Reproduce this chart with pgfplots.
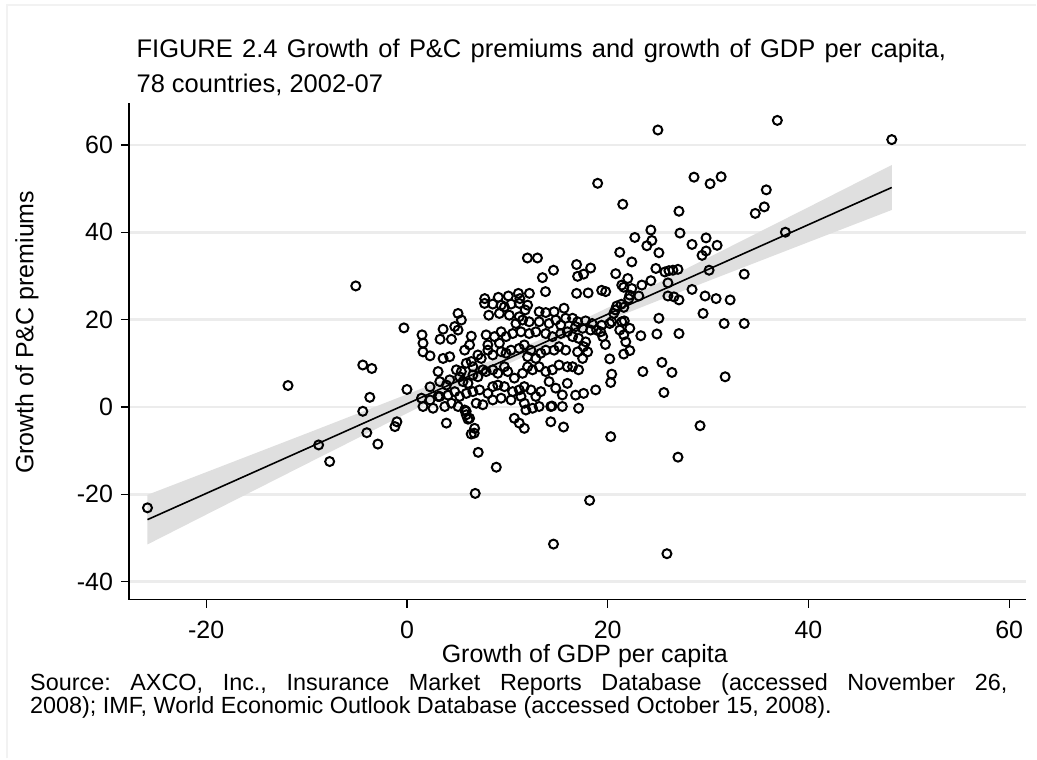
\documentclass[border=0pt]{standalone}
\usepackage{pgfplots}
\pgfplotsset{compat=1.18}
\usepackage{pgfplotstable}
\usepgfplotslibrary{fillbetween}
\usepackage{fontspec}
\setmainfont{Liberation Sans}

\pgfplotstableread{
x y
25.0 63.4
36.9 65.6
48.3 61.2
19.0 51.2
28.6 52.6
30.2 51.1
31.3 52.7
35.8 49.7
35.6 45.8
34.7 44.3
21.5 46.4
27.1 44.8
37.7 40.0
24.3 40.5
27.2 39.8
22.7 38.8
24.4 38.1
23.9 36.9
25.1 35.3
28.4 37.2
29.8 38.7
30.9 37.0
29.8 35.7
29.4 34.7
21.2 35.4
22.4 33.2
30.1 31.3
33.6 30.4
24.8 31.7
25.7 30.9
26.1 31.2
26.5 31.3
27.0 31.5
20.8 30.5
22.0 29.4
12.0 34.1
13.0 34.1
14.6 31.3
13.5 29.6
16.9 32.6
18.3 31.8
17.0 29.9
17.6 30.4
18.2 -21.4
14.6 -31.4
25.9 -33.6
6.8 -19.8
8.9 -13.8
-25.85 -23.1
-11.85 4.9
-8.8 -8.7
-7.7 -12.5
-5.1 27.7
-4.4 9.6
-3.5 8.8
-4.4 -1.0
-3.7 2.2
-4.0 -5.9
-2.9 -8.5
19.4 26.7
19.8 26.4
21.4 27.9
21.6 27.4
22.4 27.1
23.4 27.9
24.3 28.9
26.0 28.4
28.4 26.9
26.0 25.4
26.6 25.2
27.1 24.5
29.7 25.4
30.8 24.8
32.2 24.5
29.5 21.4
31.6 19.1
33.6 19.1
25.1 20.3
24.9 16.7
27.1 16.8
23.3 16.3
21.35 23.5
20.9 23.1
20.76 22.2
20.6 21.4
21.6 22.8
22.1 24.8
23.1 25.4
22.2 25.6
19.4 18.7
20.2 19.1
20.4 19.5
19.3 17.2
19.5 16.1
19.77 14.3
21.4 19.5
21.65 19.7
21.2 17.6
21.6 16.5
21.8 14.9
22.2 18.0
22.2 12.9
21.6 12.1
20.2 11.0
20.4 7.5
20.3 5.6
23.5 8.1
25.4 10.2
26.4 7.9
25.6 3.3
31.7 6.9
29.2 -4.3
20.3 -6.8
27.0 -11.5
7.73 23.7
8.55 23.55
9.38 23.3
9.71 22.9
10.37 23.55
11.19 23.7
12.02 23.3
11.78 22.2
13.17 21.8
13.83 21.6
14.66 21.8
15.65 22.6
5.09 21.4
5.42 19.9
4.76 18.4
5.09 17.6
8.15 21.0
9.21 21.4
10.2 21.0
11.19 20.65
11.52 19.9
10.86 19.1
12.18 19.5
13.17 19.5
14.16 19.1
14.82 19.9
15.32 18.75
15.81 20.3
3.6 17.8
4.43 15.5
6.41 16.2
6.24 14.2
5.75 13.0
7.89 16.5
8.72 16.1
9.38 17.2
9.87 16.1
8.06 14.2
9.21 14.6
10.53 16.8
11.36 17.2
12.18 16.8
12.84 17.2
13.83 16.8
14.49 16.1
15.32 16.8
15.98 17.2
3.6 11.1
4.26 11.5
4.92 8.5
5.42 8.1
5.91 10.0
6.41 10.4
6.57 9.2
7.07 11.9
7.4 11.1
8.06 13.0
8.55 11.9
9.38 12.65
9.87 12.3
10.37 13.0
11.19 13.4
11.69 14.2
12.35 13.0
12.02 11.5
12.84 11.1
13.34 12.3
13.83 13.0
14.66 13.0
15.15 13.8
15.81 13.0
3.27 5.8
3.93 5.0
4.26 6.2
5.25 6.9
5.58 5.8
6.08 5.4
6.57 7.3
7.07 6.9
7.56 8.5
7.89 8.1
8.55 8.5
9.05 7.7
9.71 9.2
10.04 8.1
10.7 6.6
11.52 7.7
12.02 9.2
12.51 8.5
13.17 9.2
13.83 8.1
14.49 8.5
15.15 9.6
15.98 9.2
3.27 2.4
4.1 2.7
4.76 3.5
5.25 2.4
5.91 3.1
6.57 3.5
7.23 3.9
8.06 3.1
8.55 4.65
9.05 5.0
9.71 4.65
10.53 3.5
11.19 3.9
11.69 4.65
12.35 3.9
12.84 2.4
13.34 3.5
14.16 5.8
14.82 4.3
15.48 2.75
15.98 5.4
3.77 0.1
4.43 0.85
5.09 0.1
5.75 -0.7
5.9 -1.0
6.24 -2.6
5.91 -1.8
6.9 0.85
7.56 0.5
8.55 1.6
9.38 2.0
10.37 1.6
11.36 2.4
11.69 0.85
11.85 -0.7
12.51 -0.3
13.17 0.1
14.33 0.1
14.45 0.2
15.48 0.1
3.93 -3.7
6.08 -2.8
6.74 -4.9
10.7 -2.6
11.19 -3.7
11.69 -4.9
14.33 -3.4
13.8 26.4
16.9 26.0
18.05 26.1
7.75 24.8
9.1 25.1
10.1 25.4
11.1 26.0
12.2 26.0
11.25 24.8
16.5 20.3
17.0 19.5
17.8 19.7
18.45 19.1
18.9 17.6
16.5 16.1
16.8 18.4
17.5 18.0
18.3 17.6
17.1 15.7
17.8 14.9
17.6 13.8
17.0 12.6
17.5 11.1
18.0 12.6
16.5 9.2
17.1 8.5
16.8 2.7
17.6 3.1
18.8 3.9
17.1 -0.3
-0.3 18.1
1.5 16.5
1.6 14.6
1.6 12.6
2.3 11.7
3.1 8.1
0.0 4.0
2.3 4.6
1.45 2.0
2.3 1.6
3.1 2.4
1.6 0.1
2.6 -0.3
-1.2 -4.5
-1.0 -3.4
3.3 15.5
6.4 -6.2
6.7 -6.0
15.6 -4.6
7.1 -10.4
}\pts

\pgfplotstableread{
x lo hi
-25.85 -31.48 -20.12
-20 -24.66 -14.94
-10 -13.03 -6.07
0 -1.46 2.88
5 4.24 7.44
10 9.78 12.16
13.1 13.04 15.24
16 15.94 18.30
20 19.74 22.70
25 24.32 28.38
30 28.82 34.14
40 37.73 45.73
48.3 45.09 55.39
}\band

\begin{document}
\frenchspacing
\begin{tikzpicture}
\path (0,0) rectangle (1037bp,759bp);
\draw[gray!10, line width=1.5bp] (7bp,0) -- (7bp,754bp) -- (1037bp,754bp);
\node[anchor=base west, inner sep=0pt, font=\fontsize{25.5bp}{30bp}\selectfont] at (136.5bp,701.5bp) {\makebox[810bp][s]{FIGURE 2.4 Growth of P\&C premiums and growth of GDP per capita,}};
\node[anchor=base west, inner sep=0pt, font=\fontsize{25.5bp}{30bp}\selectfont] at (136.5bp,666.3bp) {78 countries, 2002-07};
\node[anchor=base west, inner sep=0pt, font=\fontsize{23.4bp}{27bp}\selectfont] at (30bp,68bp) {\makebox[978bp][s]{Source: AXCO, Inc., Insurance Market Reports Database (accessed November 26,}};
\node[anchor=base west, inner sep=0pt, font=\fontsize{23.4bp}{27bp}\selectfont] at (30bp,45bp) {2008); IMF, World Economic Outlook Database (accessed October 15, 2008).};
\begin{axis}[
  at={(129bp,159bp)}, anchor=south west,
  width=898bp, height=497bp, scale only axis,
  xmin=-27.7, xmax=61.7, ymin=-44.1, ymax=69.6,
  axis x line=bottom, axis y line=left,
  axis line style={-, black, line width=1.4bp},
  xtick={-20,0,20,40,60}, ytick={-40,-20,0,20,40,60},
  tick align=outside, major tick length=8bp,
  tick style={black, line width=1.3bp},
  ymajorgrids, grid style={gray!15, line width=2.6bp},
  tick label style={font=\fontsize{25bp}{30bp}\selectfont},
  xticklabel style={yshift=-10bp},
  yticklabel style={xshift=-4.5bp},
  /pgf/number format/assume math mode=true,
  xlabel={Growth of GDP per capita},
  ylabel={Growth of P\&C premiums},
  label style={font=\fontsize{25bp}{30bp}\selectfont},
  xlabel style={at={(axis description cs:0.508,-0.127)}, anchor=base},
  ylabel style={at={(axis description cs:-0.1136,0.538)}, anchor=center},
  clip=false,
]
\addplot[name path=U, draw=none, forget plot] table[x=x, y=hi] {\band};
\addplot[name path=L, draw=none, forget plot] table[x=x, y=lo] {\band};
\addplot[fill=gray!25, draw=none] fill between[of=U and L];
\addplot[only marks, mark=o, mark size=4.5bp, mark options={line width=2bp, black}] table[x=x, y=y] {\pts};
\addplot[black, line width=1.6bp] coordinates {(-25.85,-25.80) (48.3,50.24)};
\end{axis}
\end{tikzpicture}
\end{document}
